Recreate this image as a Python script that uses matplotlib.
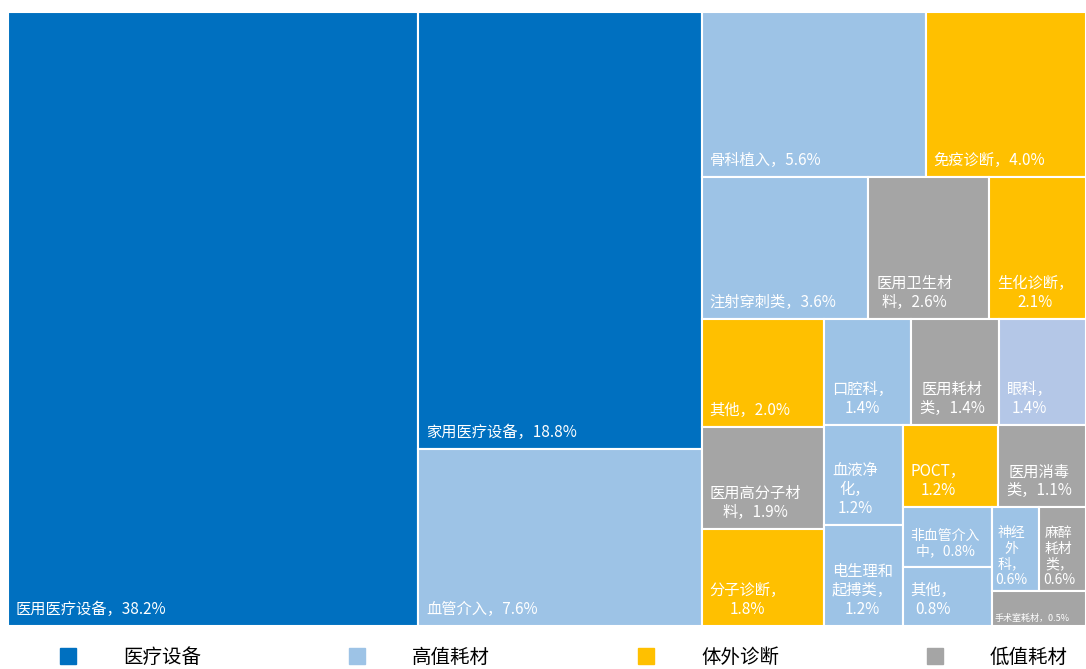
import matplotlib
matplotlib.use("Agg")
import matplotlib.pyplot as plt
from matplotlib.patches import Rectangle
from matplotlib.lines import Line2D

plt.rcParams['font.family'] = ['Noto Sans CJK SC', 'DejaVu Sans']

# data (share of market, %)
names = ['医用医疗设备', '家用医疗设备', '血管介入', '骨科植入', '免疫诊断', '注射穿刺类',
         '医用卫生材料', '生化诊断', '其他', '医用高分子材料', '分子诊断', '口腔科',
         '医用耗材类', '眼科', '血液净化', '电生理和起搏类', 'POCT', '医用消毒类',
         '非血管介入中', '其他', '神经外科', '麻醉耗材类', '手术室耗材']
values = [38.2, 18.8, 7.6, 5.6, 4.0, 3.6, 2.6, 2.1, 2.0, 1.9, 1.8, 1.4,
          1.4, 1.4, 1.2, 1.2, 1.2, 1.1, 0.8, 0.8, 0.6, 0.6, 0.5]
groups = ['医疗设备', '医疗设备', '高值耗材', '高值耗材', '体外诊断', '高值耗材',
          '低值耗材', '体外诊断', '体外诊断', '低值耗材', '体外诊断', '高值耗材',
          '低值耗材', '高值耗材', '高值耗材', '高值耗材', '体外诊断', '低值耗材',
          '高值耗材', '高值耗材', '高值耗材', '低值耗材', '低值耗材']
group_names = ['医疗设备', '高值耗材', '体外诊断', '低值耗材']
group_colors = ['#0070C0', '#9DC3E6', '#FFC000', '#A5A5A5']
# one cell is drawn in a lighter tint in the original
cell_color_override = {'眼科': '#B4C7E7'}


def worst(row, side):
    s = sum(row)
    return max(max(side**2 * v / s**2, s**2 / (side**2 * v)) for v in row)


# squarified treemap layout, y axis goes downwards
def squarify(areas, x, y, w, h):
    rects = []
    areas = list(areas)
    while areas:
        side = min(w, h)
        row = [areas[0]]
        i = 1
        while i < len(areas) and worst(row + [areas[i]], side) <= worst(row, side):
            row.append(areas[i])
            i += 1
        s = sum(row)
        if w >= h:
            cw = s / h
            yy = y
            for a in row:
                rects.append((x, yy, cw, a / cw))
                yy += a / cw
            x += cw
            w -= cw
        else:
            rh = s / w
            xx = x
            for a in row:
                rects.append((xx, y, a / rh, rh))
                xx += a / rh
            y += rh
            h -= rh
        areas = areas[i:]
    return rects


def tokens_of(label):
    # CJK chars one by one, ascii runs kept together, '，' glued to the char before
    toks = []
    buf = ''
    for ch in label:
        if ch.isascii():
            buf += ch
            continue
        if buf:
            toks.append(buf)
            buf = ''
        if ch == '，' and toks:
            toks[-1] += ch
        else:
            toks.append(ch)
    if buf:
        toks.append(buf)
    return toks


def text_width(s, size, renderer, ax):
    t = ax.text(0, 0, s, fontsize=size)
    w = t.get_window_extent(renderer).width
    t.remove()
    return w


def wrap(label, size, avail, renderer, ax):
    lines = []
    cur = ''
    for tok in tokens_of(label):
        if cur and text_width(cur + tok, size, renderer, ax) > avail:
            lines.append(cur)
            cur = tok
        else:
            cur += tok
    lines.append(cur)
    return lines


W, H = 1078, 614
fig = plt.figure(figsize=(10.86, 6.69), dpi=100)
ax = fig.add_axes([8 / 1086, 43 / 669, W / 1086, H / 669])
ax.set_xlim(0, W)
ax.set_ylim(H, 0)
ax.axis('off')

total = sum(values)
rects = squarify([v / total * W * H for v in values], 0, 0, W, H)
renderer = fig.canvas.get_renderer()

for name, val, grp, (x, y, w, h) in zip(names, values, groups, rects):
    color = cell_color_override.get(name, group_colors[group_names.index(grp)])
    ax.add_patch(Rectangle((x, y), w, h, facecolor=color, edgecolor='white', linewidth=1.5))
    label = f'{name}，{val:.1f}%'
    pad = 8 if w >= 70 else 4
    size = 11.0
    while True:
        lines = wrap(label, size, w - 2 * pad, renderer, ax)
        widest = max(text_width(l, size, renderer, ax) for l in lines)
        block_h = len(lines) * size * 1.3 * 100 / 72
        if (widest <= w - 2 * pad and block_h <= h - 2 * pad) or size <= 5:
            break
        size -= 0.5
    p = pad if size > 8 else 3
    ax.text(x + p, y + h - p, '\n'.join(lines), fontsize=size, color='white',
            ha='left', va='bottom', multialignment='center', linespacing=1.15)

handles = [Line2D([], [], marker='s', linestyle='none', markersize=11, color=c)
           for c in group_colors]
fig.legend(handles, group_names, loc='center left', bbox_to_anchor=(58 / 1086, 12 / 669),
           ncol=4, frameon=False, fontsize=14, handlelength=1, handletextpad=2.35,
           columnspacing=7.5, borderpad=0, borderaxespad=0)

fig.savefig('out.png', dpi=100, facecolor='white')
